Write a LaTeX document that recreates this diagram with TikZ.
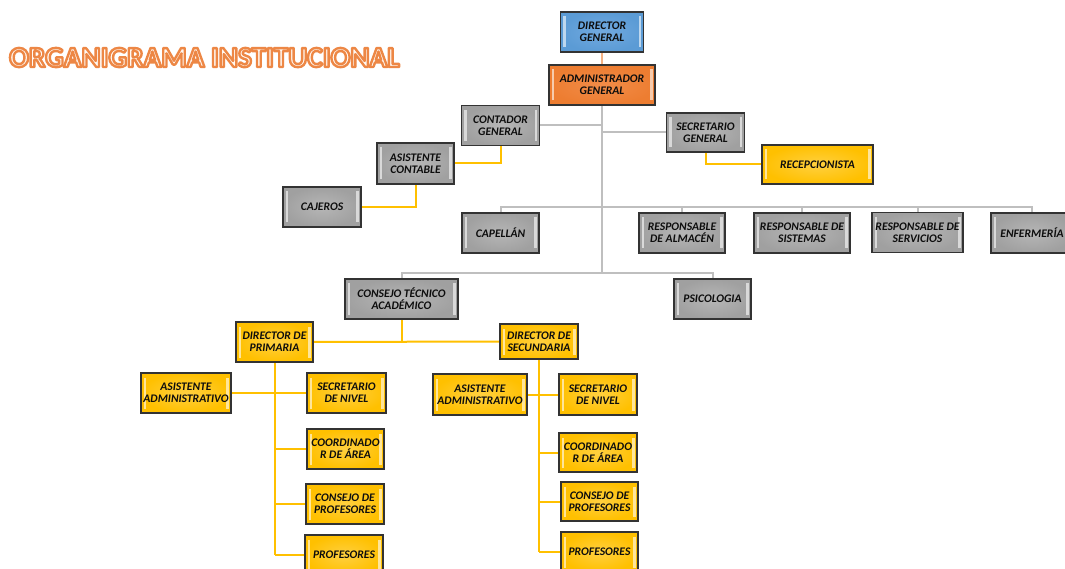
\documentclass[tikz,border=0pt]{standalone}
\usepackage{fontspec}
\setmainfont{Carlito}
\usetikzlibrary{backgrounds}
\definecolor{cgray}{HTML}{A0A0A0}
\definecolor{cgrayin}{HTML}{B6B6B6}
\definecolor{cyel}{HTML}{FFC000}
\definecolor{cyelin}{HTML}{FFD040}
\definecolor{corange}{HTML}{ED7D31}
\definecolor{corangein}{HTML}{F28C48}
\definecolor{cblue}{HTML}{5B9BD5}
\definecolor{cbluein}{HTML}{72AAE0}
\definecolor{cborder}{HTML}{333333}
\definecolor{lgray}{HTML}{BFBFBF}
\definecolor{lyel}{HTML}{FFC000}
\definecolor{lorange}{HTML}{F4B183}
\definecolor{ttlin}{HTML}{FFF8F2}
\newcommand{\outlinetext}[1]{\special{pdf:literal direct 0.93 0.53 0.27 RG 2.4 w 1 j 2 Tr}#1\special{pdf:literal direct 0 Tr}}
\tikzset{
  box/.style={draw=cborder, line width=1.5pt, align=center, inner sep=0pt,
    text=black!95, font=\fontsize{11.6}{12}\selectfont\bfseries\itshape,
    path picture={
      \fill[white,opacity=0.6] ([xshift=2.5pt,yshift=-4.5pt]path picture bounding box.north west) rectangle ([xshift=5pt,yshift=4.5pt]path picture bounding box.south west);
      \fill[white,opacity=0.6] ([xshift=-2.5pt,yshift=-4.5pt]path picture bounding box.north east) rectangle ([xshift=-5pt,yshift=4.5pt]path picture bounding box.south east);
    }},
  gbox/.style={box, inner color=cgrayin, outer color=cgray},
  ybox/.style={box, inner color=cyelin, outer color=cyel},
  obox/.style={box, inner color=corangein, outer color=corange},
  bbox/.style={box, inner color=cbluein, outer color=cblue},
  gline/.style={draw=lgray, line width=2pt},
  yline/.style={draw=lyel, line width=2pt},
  oline/.style={draw=lorange, line width=2.5pt},
  ttl/.style={anchor=base west, inner sep=0pt, font=\fontsize{29.2}{30}\selectfont\bfseries},
}
\begin{document}
\begin{tikzpicture}[x=1pt,y=-1pt]
\useasboundingbox (0,0) rectangle (1065,569);
\clip (0,0) rectangle (1065,569);
\begin{pgfonlayer}{background}
\fill[white] (0,0) rectangle (1065,569);
\end{pgfonlayer}

% title
\node[ttl, text=ttlin] (title) at (9,67) {\outlinetext{ORGANIGRAMA INSTITUCIONAL}};

\coordinate (row) at (602,207);
\coordinate (row2) at (602,273);

% boxes
\node[bbox, minimum width=83, minimum height=40] (dg) at (602,32) {DIRECTOR\\GENERAL};
\node[obox, minimum width=106, minimum height=40] (ag) at (602,85) {ADMINISTRADOR\\GENERAL};
\node[gbox, minimum width=78, minimum height=40] (cg) at (500.5,125.5) {CONTADOR\\GENERAL};
\node[gbox, minimum width=78, minimum height=39] (sg) at (705.5,132.5) {SECRETARIO\\GENERAL};
\node[gbox, minimum width=77, minimum height=41] (asc) at (415.5,163.5) {ASISTENTE\\CONTABLE};
\node[ybox, minimum width=111, minimum height=39] (rec) at (817.5,164.5) {RECEPCIONISTA};
\node[gbox, minimum width=78, minimum height=40] (caj) at (322,207) {CAJEROS};
\node[gbox, minimum width=77, minimum height=40] (cap) at (500.5,233) {CAPELLÁN};
\node[gbox, minimum width=86, minimum height=40] (alm) at (682,233) {RESPONSABLE\\DE ALMACÉN};
\node[gbox, minimum width=96, minimum height=40] (sis) at (802,233) {RESPONSABLE DE\\SISTEMAS};
\node[gbox, minimum width=91, minimum height=40] (ser) at (917.5,232.5) {RESPONSABLE DE\\SERVICIOS};
\node[gbox, minimum width=82, minimum height=40] (enf) at (1032,233) {ENFERMERÍA};
\node[gbox, minimum width=113, minimum height=40] (cta) at (401.5,299) {CONSEJO TÉCNICO\\ACADÉMICO};
\node[gbox, minimum width=77, minimum height=40] (psi) at (712.5,299) {PSICOLOGIA};
\node[ybox, minimum width=77, minimum height=40] (dp) at (274.5,342) {DIRECTOR DE\\PRIMARIA};
\node[ybox, minimum width=78, minimum height=35] (ds) at (539,341.5) {DIRECTOR DE\\SECUNDARIA};
\node[ybox, minimum width=90, minimum height=40] (aal) at (186,393) {ASISTENTE\\ADMINISTRATIVO};
\node[ybox, minimum width=79, minimum height=40] (snl) at (346.5,393) {SECRETARIO\\DE NIVEL};
\node[ybox, minimum width=77, minimum height=40] (cal) at (345.5,449) {COORDINADO\\R DE ÁREA};
\node[ybox, minimum width=78, minimum height=40] (cpl) at (345,504) {CONSEJO DE\\PROFESORES};
\node[ybox, minimum width=78, minimum height=40] (prl) at (344,555) {PROFESORES};
\node[ybox, minimum width=94, minimum height=41] (aar) at (480,394.5) {ASISTENTE\\ADMINISTRATIVO};
\node[ybox, minimum width=78, minimum height=41] (snr) at (598,394.5) {SECRETARIO\\DE NIVEL};
\node[ybox, minimum width=78, minimum height=39] (car) at (598,452.5) {COORDINADO\\R DE ÁREA};
\node[ybox, minimum width=77, minimum height=39] (cpr) at (599.5,501.5) {CONSEJO DE\\PROFESORES};
\node[ybox, minimum width=77, minimum height=40] (prr) at (599.5,552) {PROFESORES};

% connectors behind boxes
\begin{pgfonlayer}{background}
\draw[oline] (dg) -- (ag);
\draw[gline] (ag.south) -- (row2);
\draw[gline] (cg.east) -- (cg.east -| ag.south);
\draw[gline] (sg.west) -- (sg.west -| ag.south);
\draw[yline] (cg.south) |- (asc.east);
\draw[yline] (asc.south) |- (caj.east);
\draw[yline] (sg.south) |- (rec.west);
\draw[gline] (cap.north) |- (row) -| (enf.north);
\draw[gline] (alm.north) -- (alm.north |- row);
\draw[gline] (sis.north) -- (sis.north |- row);
\draw[gline] (ser.north) -- (ser.north |- row);
\draw[gline] (cta.north) |- (row2) -| (psi.north);
\draw[yline] (cta.south) -- (cta.south |- dp.east);
\draw[yline] (dp.east) -- (ds.west);
\draw[yline] (dp.south) -- (dp.south |- prl.west);
\draw[yline] (aal.east) -- (snl.west);
\draw[yline] (cal.west) -- (cal.west -| dp.south);
\draw[yline] (cpl.west) -- (cpl.west -| dp.south);
\draw[yline] (prl.west) -- (prl.west -| dp.south);
\draw[yline] (ds.south) -- (ds.south |- prr.west);
\draw[yline] (aar.east) -- (snr.west);
\draw[yline] (car.west) -- (car.west -| ds.south);
\draw[yline] (cpr.west) -- (cpr.west -| ds.south);
\draw[yline] (prr.west) -- (prr.west -| ds.south);
\end{pgfonlayer}
\end{tikzpicture}
\end{document}
